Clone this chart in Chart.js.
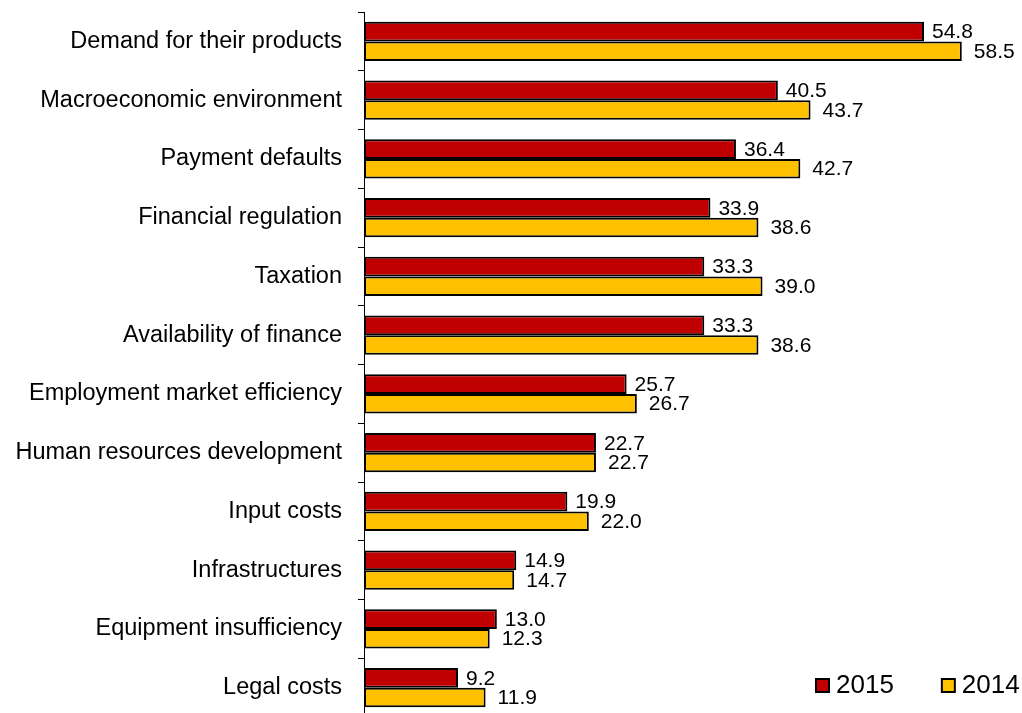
<!DOCTYPE html>
<html>
<head>
<meta charset="utf-8">
<script src="https://cdn.jsdelivr.net/npm/chart.js@4.4.1/dist/chart.umd.min.js"></script>
<style>
  html, body { margin: 0; padding: 0; background: #fff; overflow: hidden; }
  #wrap { width: 1022px; height: 717px; position: relative; }
</style>
</head>
<body>
<div id="wrap"><canvas id="chart"></canvas></div>
<script>
// Obstacles to business, share of firms (%)
const categories = [
  'Demand for their products',
  'Macroeconomic environment',
  'Payment defaults',
  'Financial regulation',
  'Taxation',
  'Availability of finance',
  'Employment market efficiency',
  'Human resources development',
  'Input costs',
  'Infrastructures',
  'Equipment insufficiency',
  'Legal costs'
];
const values2015 = [54.8, 40.5, 36.4, 33.9, 33.3, 33.3, 25.7, 22.7, 19.9, 14.9, 13.0, 9.2];
const values2014 = [58.5, 43.7, 42.7, 38.6, 39.0, 38.6, 26.7, 22.7, 22.0, 14.7, 12.3, 11.9];
const seriesNames = ['2015', '2014'];

const FONT = '"Liberation Sans", Arial, sans-serif';
const RED = '#C00000';
const YELLOW = '#FFC000';

// value labels just right of each bar end
const barLabels = {
  id: 'barLabels',
  afterDatasetsDraw(chart) {
    const ctx = chart.ctx;
    ctx.save();
    ctx.font = '21px ' + FONT;
    ctx.fillStyle = '#000';
    ctx.textAlign = 'left';
    ctx.textBaseline = 'middle';
    chart.data.datasets.forEach((ds, di) => {
      const meta = chart.getDatasetMeta(di);
      const dx = di === 0 ? 8 : 12;
      meta.data.forEach((bar, i) => {
        ctx.fillText(ds.data[i].toFixed(1), bar.x + dx, bar.y + 1);
      });
    });
    ctx.restore();
  }
};

// legend sits inside the plot, bottom right
const cornerLegend = {
  id: 'cornerLegend',
  afterDraw(chart) {
    const ctx = chart.ctx;
    ctx.save();
    ctx.font = '26px ' + FONT;
    ctx.textBaseline = 'middle';
    ctx.textAlign = 'left';
    let x = 816;
    const y = 686;
    chart.data.datasets.forEach(ds => {
      ctx.fillStyle = ds.backgroundColor;
      ctx.fillRect(x, y - 7, 13, 13);
      ctx.strokeStyle = '#000';
      ctx.lineWidth = 2;
      ctx.strokeRect(x, y - 7, 13, 13);
      ctx.fillStyle = '#000';
      ctx.fillText(ds.label, x + 20, y);
      x += 20 + ctx.measureText(ds.label).width + 48;
    });
    ctx.restore();
  }
};

new Chart(document.getElementById('chart'), {
  type: 'bar',
  data: {
    labels: categories,
    datasets: [
      {
        label: seriesNames[0],
        data: values2015,
        backgroundColor: RED,
        borderColor: '#000',
        borderWidth: 2,
        borderSkipped: false,
        barPercentage: 1,
        categoryPercentage: 0.665
      },
      {
        label: seriesNames[1],
        data: values2014,
        backgroundColor: YELLOW,
        borderColor: '#000',
        borderWidth: 2,
        borderSkipped: false,
        barPercentage: 1,
        categoryPercentage: 0.665
      }
    ]
  },
  options: {
    indexAxis: 'y',
    responsive: true,
    maintainAspectRatio: false,
    animation: false,
    layout: { padding: { top: 12, right: 4, bottom: 0, left: 0 } },
    plugins: {
      legend: { display: false },
      tooltip: { enabled: false }
    },
    scales: {
      x: {
        display: false,
        min: 0,
        max: 64
      },
      y: {
        afterFit(scale) {
          scale.width = 364;
          // keep the category band flush with the top/bottom of the plot
          scale.paddingTop = 0;
          scale.paddingBottom = 0;
        },
        grid: {
          offset: true,
          drawOnChartArea: false,
          drawTicks: true,
          tickLength: 6,
          color: '#000',
          lineWidth: 1
        },
        border: { display: true, color: '#000', width: 1 },
        ticks: {
          color: '#000',
          padding: 16,
          font: { family: FONT, size: 23.5 }
        }
      }
    }
  },
  plugins: [barLabels, cornerLegend]
});
</script>
</body>
</html>
